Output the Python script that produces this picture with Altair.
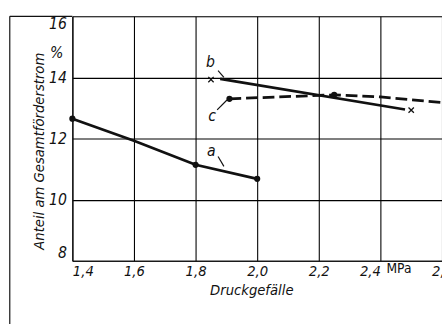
import altair as alt
import pandas as pd

# Series a
a_x = [1.4, 1.6, 1.8, 2.0]
a_y = [12.65, 11.93, 11.14, 10.68]
a_dot_x = [1.4, 1.8, 2.0]
a_dot_y = [12.65, 11.14, 10.68]
# Series b
b_x = [1.88, 2.48]
b_y = [13.95, 12.95]
b_mark_x = [1.85, 2.5]
b_mark_y = [13.93, 12.93]
# Series c
c_x = [1.91, 2.25, 2.4, 2.6]
c_y = [13.30, 13.43, 13.36, 13.18]
c_dot_x = [1.91, 2.25]
c_dot_y = [13.30, 13.43]
# Labels
lab_text = ["b", "c", "a"]
lab_x = [1.848, 1.854, 1.851]
lab_y = [14.51, 12.72, 11.6]
lead_x1 = [1.873, 1.870, 1.873]
lead_y1 = [14.22, 12.94, 11.41]
lead_x2 = [1.892, 1.902, 1.892]
lead_y2 = [14.0, 13.26, 11.09]

x_ticks = [1.4, 1.6, 1.8, 2.0, 2.2, 2.4, 2.6]
y_ticks = [8, 10, 12, 14, 16]

FONT = "DejaVu Sans Condensed, DejaVu Sans"

xs = alt.Scale(domain=[1.4, 2.6], nice=False, zero=False)
ys = alt.Scale(domain=[8, 16], nice=False, zero=False)

df_a = pd.DataFrame({"x": a_x, "y": a_y})
df_ad = pd.DataFrame({"x": a_dot_x, "y": a_dot_y})
df_b = pd.DataFrame({"x": b_x, "y": b_y})
df_bm = pd.DataFrame({"x": b_mark_x, "y": b_mark_y})
df_c = pd.DataFrame({"x": c_x, "y": c_y})
df_cd = pd.DataFrame({"x": c_dot_x, "y": c_dot_y})
df_lab = pd.DataFrame({"t": lab_text, "x": lab_x, "y": lab_y})
df_lead = pd.DataFrame({"x": lead_x1, "y": lead_y1, "x2": lead_x2, "y2": lead_y2})

X = alt.X("x:Q", scale=xs, axis=alt.Axis(
    values=x_ticks, labelExpr="replace(format(datum.value, '.1f'), '.', ',')",
    labelAlign={"condition": [
        {"test": "datum.value > 2.35 && datum.value < 2.45", "value": "right"},
        {"test": "datum.value < 1.45", "value": "left"}],
        "value": "center"},
    labelFlush=False,
    title="Druckgefälle", grid=True, gridColor="#000", gridWidth=1.1, gridOpacity=1,
    domainColor="#111", domainWidth=1.2, ticks=False, labelPadding=3,
    labelFont=FONT, labelFontStyle="italic", labelFontSize=15, labelColor="#111",
    titleFont=FONT, titleFontStyle="italic", titleFontSize=15, titleFontWeight="normal",
    titleColor="#111", titlePadding=5, titleX=183, titleAnchor="middle"))
Y = alt.Y("y:Q", scale=ys, axis=alt.Axis(
    values=y_ticks, title=None, grid=True, gridColor="#000", gridWidth=1.1, gridOpacity=1,
    domainColor="#111", domainWidth=1.2, ticks=False, labelPadding=6,
    labelFlush=True, labelFlushOffset=0,
    labelFont=FONT, labelFontStyle="italic", labelFontSize=16, labelColor="#111"))

base_a = alt.Chart(df_a).mark_line(color="#111", strokeWidth=2.8).encode(x=X, y=Y)
dots_a = alt.Chart(df_ad).mark_point(filled=True, color="#111", size=40, opacity=1).encode(x="x:Q", y="y:Q")
line_b = alt.Chart(df_b).mark_line(color="#111", strokeWidth=2.8).encode(x="x:Q", y="y:Q")
marks_b = alt.Chart(df_bm).mark_point(shape="M-1,-1L1,1M1,-1L-1,1", color="#111", size=30,
                                      strokeWidth=1.3, opacity=1).encode(x="x:Q", y="y:Q")
line_c = alt.Chart(df_c).mark_line(color="#111", strokeWidth=2.8, strokeDash=[12, 5]).encode(x="x:Q", y="y:Q")
dots_c = alt.Chart(df_cd).mark_point(filled=True, color="#111", size=40, opacity=1).encode(x="x:Q", y="y:Q")
labels = alt.Chart(df_lab).mark_text(font=FONT, fontStyle="italic", fontSize=16, color="#111").encode(
    x="x:Q", y="y:Q", text="t:N")
leads = alt.Chart(df_lead).mark_rule(color="#111", strokeWidth=1.2).encode(
    x="x:Q", y="y:Q", x2="x2:Q", y2="y2:Q")

ylab = alt.Chart(pd.DataFrame({"t": ["Anteil am Gesamtförderstrom"]})).mark_text(
    font=FONT, fontStyle="italic", fontSize=15, color="#111", angle=270).encode(
    text="t:N", x=alt.value(-34), y=alt.value(138))
pct = alt.Chart(pd.DataFrame({"t": ["%"]})).mark_text(
    font=FONT, fontStyle="italic", fontSize=16, color="#111").encode(
    text="t:N", x=alt.value(-16), y=alt.value(38))
mpa = alt.Chart(pd.DataFrame({"t": ["MPa"]})).mark_text(
    font=FONT, fontSize=14, color="#111").encode(
    text="t:N", x=alt.value(334), y=alt.value(259))
frame_l = alt.Chart(pd.DataFrame({"k": [0]})).mark_rule(color="#111", strokeWidth=1.2).encode(
    x=alt.value(-64), y=alt.value(0), y2=alt.value(320))
frame_t = alt.Chart(pd.DataFrame({"k": [0]})).mark_rule(color="#111", strokeWidth=1.2).encode(
    x=alt.value(-64), x2=alt.value(0), y=alt.value(0))

chart = alt.layer(base_a, dots_a, line_b, marks_b, line_c, dots_c, leads, labels,
                  ylab, pct, mpa, frame_l, frame_t).properties(
    width=378, height=250,
    autosize=alt.AutoSizeParams(type="none"),
    padding={"left": 74, "top": 13, "right": 0, "bottom": 61},
).configure_view(stroke="#111", strokeWidth=1.2).configure(background="white")

chart.save("out.html", embed_options={"renderer": "svg", "actions": False})
